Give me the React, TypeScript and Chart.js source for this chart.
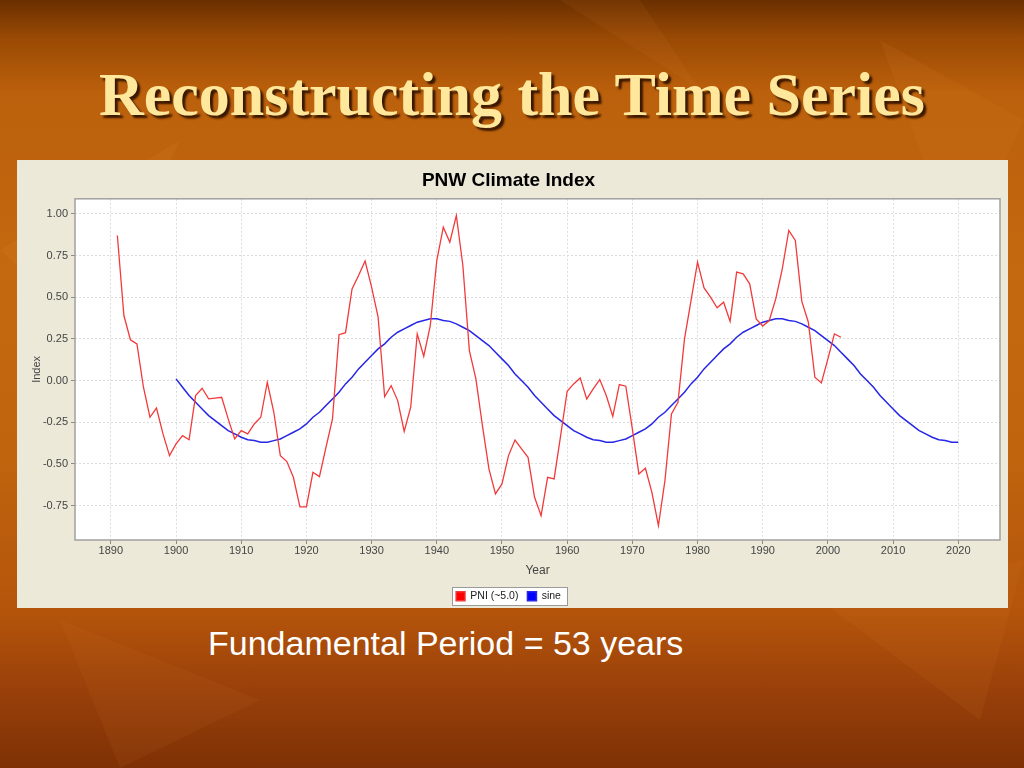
import React, { useEffect, useRef } from "react";
import { Chart, registerables } from "chart.js";

Chart.register(...registerables);

const chartTitle = "PNW Climate Index";
const slideTitle = "Reconstructing the Time Series";
const subtitle = "Fundamental Period = 53 years";
const xTitle = "Year";
const yTitle = "Index";
const seriesNames = ["PNI (~5.0)", "sine"];

// PNI series, years 1891..2002
const pniStartYear = 1891;
const pniValues = [
  0.87, 0.39, 0.245, 0.22, -0.04, -0.22, -0.165, -0.32, -0.45,
  -0.38, -0.33, -0.355, -0.09, -0.046, -0.11, -0.105, -0.1, -0.23, -0.35,
  -0.3, -0.32, -0.26, -0.22, -0.01, -0.19, -0.45, -0.486, -0.58, -0.757,
  -0.757, -0.55, -0.576, -0.4, -0.23, 0.275, 0.287, 0.55, 0.63, 0.717,
  0.56, 0.38, -0.097, -0.03, -0.12, -0.305, -0.16, 0.28, 0.146, 0.33,
  0.72, 0.92, 0.83, 0.99, 0.69, 0.18, 0.01, -0.27, -0.53, -0.68,
  -0.62, -0.45, -0.357, -0.41, -0.46, -0.7, -0.81, -0.58, -0.59, -0.33,
  -0.064, -0.02, 0.016, -0.11, -0.05, 0.006, -0.09, -0.215, -0.024, -0.034,
  -0.29, -0.56, -0.526, -0.67, -0.87, -0.6, -0.2, -0.13, 0.25, 0.48,
  0.71, 0.556, 0.5, 0.436, 0.47, 0.355, 0.65, 0.64, 0.58, 0.37,
  0.327, 0.36, 0.49, 0.67, 0.9, 0.84, 0.475, 0.35, 0.02, -0.014,
  0.13, 0.28, 0.26,
];

// sine series, years 1900..2020
const sineStartYear = 1900;
const sineValues = [
  0.01, -0.04, -0.09, -0.13, -0.17, -0.21, -0.24, -0.27, -0.3, -0.32,
  -0.34, -0.355, -0.36, -0.37, -0.37, -0.36, -0.35, -0.33, -0.31, -0.29,
  -0.26, -0.22, -0.19, -0.15, -0.11, -0.07, -0.02, 0.02, 0.07, 0.11,
  0.15, 0.19, 0.22, 0.26, 0.29, 0.31, 0.33, 0.35, 0.36, 0.37,
  0.37, 0.36, 0.355, 0.34, 0.32, 0.3, 0.27, 0.24, 0.21, 0.17,
  0.13, 0.09, 0.04, 0.0, -0.04, -0.09, -0.13, -0.17, -0.21, -0.24,
  -0.27, -0.3, -0.32, -0.34, -0.355, -0.36, -0.37, -0.37, -0.36, -0.35,
  -0.33, -0.31, -0.29, -0.26, -0.22, -0.19, -0.15, -0.11, -0.07, -0.02,
  0.02, 0.07, 0.11, 0.15, 0.19, 0.22, 0.26, 0.29, 0.31, 0.33,
  0.35, 0.36, 0.37, 0.37, 0.36, 0.355, 0.34, 0.32, 0.3, 0.27,
  0.24, 0.21, 0.17, 0.13, 0.09, 0.04, 0.0, -0.04, -0.09, -0.13,
  -0.17, -0.21, -0.24, -0.27, -0.3, -0.32, -0.34, -0.355, -0.36, -0.37,
  -0.37,
];

const xMin = 1884.5;
const xMax = 2026.4;
const yMin = -0.956;
const yMax = 1.09;

const toPoints = (start: number, vals: number[]) =>
  vals.map((v, i) => ({ x: start + i, y: v }));

const chartDecor = {
  id: "chartDecor",
  beforeDraw(chart: any) {
    const { ctx, chartArea } = chart;
    ctx.save();
    ctx.fillStyle = "#ffffff";
    ctx.fillRect(chartArea.left, chartArea.top, chartArea.right - chartArea.left, chartArea.bottom - chartArea.top);
    const boxes = chart.legend && chart.legend.legendHitBoxes;
    if (boxes && boxes.length) {
      let l = Infinity, r = -Infinity, t = Infinity, b = -Infinity;
      boxes.forEach((h: any) => {
        l = Math.min(l, h.left);
        r = Math.max(r, h.left + h.width);
        t = Math.min(t, h.top);
        b = Math.max(b, h.top + h.height);
      });
      const x = Math.round(l - 4) + 0.5;
      const y = Math.round(t - 4) + 0.5;
      const w = Math.round(r - l + 10);
      const h = Math.round(b - t + 7);
      ctx.fillStyle = "#ffffff";
      ctx.fillRect(x, y, w, h);
      ctx.strokeStyle = "#9a9a9a";
      ctx.lineWidth = 1;
      ctx.strokeRect(x, y, w, h);
    }
    ctx.restore();
  },
  afterDraw(chart: any) {
    const { ctx, chartArea } = chart;
    ctx.save();
    ctx.strokeStyle = "#a0a0a0";
    ctx.lineWidth = 1.5;
    ctx.strokeRect(chartArea.left, chartArea.top, chartArea.right - chartArea.left, chartArea.bottom - chartArea.top);
    ctx.restore();
  },
};

function PnwChart() {
  const ref = useRef<HTMLCanvasElement | null>(null);
  useEffect(() => {
    if (!ref.current) return;
    const font = "'Liberation Sans', Arial, sans-serif";
    const chart = new Chart(ref.current, {
      type: "line",
      data: {
        datasets: [
          {
            label: seriesNames[0],
            data: toPoints(pniStartYear, pniValues),
            borderColor: "#f23a3a",
            backgroundColor: "#ff0000",
            borderWidth: 1.3,
            pointRadius: 0,
            tension: 0,
          },
          {
            label: seriesNames[1],
            data: toPoints(sineStartYear, sineValues),
            borderColor: "#2626e6",
            backgroundColor: "#0000ff",
            borderWidth: 1.5,
            pointRadius: 0,
            tension: 0,
          },
        ],
      },
      options: {
        animation: false,
        responsive: false,
        devicePixelRatio: 1,
        layout: { padding: { top: 1, right: 8, bottom: 0, left: 0 } },
        plugins: {
          title: {
            display: true,
            text: chartTitle,
            color: "#000000",
            font: { family: font, size: 19, weight: "bold" },
            padding: { top: 8, bottom: 7 },
          },
          legend: {
            display: true,
            position: "bottom",
            maxHeight: 26,
            labels: {
              boxWidth: 9,
              boxHeight: 9,
              padding: 9,
              color: "#222222",
              font: { family: font, size: 10.5 },
            },
          },
          tooltip: { enabled: false },
        },
        scales: {
          x: {
            type: "linear",
            min: xMin,
            max: xMax,
            afterFit: (s: any) => {
              s.height = 42;
            },
            ticks: {
              stepSize: 10,
              includeBounds: false,
              padding: 0,
              color: "#444444",
              font: { family: font, size: 11 },
              callback: (v: any) => String(v),
              maxRotation: 0,
            },
            grid: {
              color: "#dcdcdc",
              tickColor: "#8a8a8a",
              tickLength: 4,
              lineWidth: 1,
            },
            border: { display: false, dash: [2, 2] },
            title: {
              display: true,
              text: xTitle,
              color: "#444444",
              font: { family: font, size: 12 },
              padding: { top: 0, bottom: 4 },
            },
          },
          y: {
            type: "linear",
            min: yMin,
            max: yMax,
            afterFit: (s: any) => {
              s.width = 58;
            },
            ticks: {
              stepSize: 0.25,
              includeBounds: false,
              padding: 3,
              color: "#444444",
              font: { family: font, size: 11 },
              callback: (v: any) => Number(v).toFixed(2),
            },
            grid: {
              color: "#dcdcdc",
              tickColor: "#8a8a8a",
              tickLength: 4,
              lineWidth: 1,
            },
            border: { display: false, dash: [2, 2] },
            title: {
              display: true,
              text: yTitle,
              color: "#444444",
              font: { family: font, size: 11 },
              padding: { top: 13, bottom: 0 },
            },
          },
        },
      } as any,
      plugins: [chartDecor],
    });
    return () => chart.destroy();
  }, []);
  return <canvas ref={ref} width={991} height={448} style={{ display: "block" }} />;
}

export default function App() {
  return (
    <div
      style={{
        position: "absolute",
        left: 0,
        top: 0,
        width: 1024,
        height: 768,
        overflow: "hidden",
        background:
          "linear-gradient(180deg, #6a2f00 0%, #9a4a04 5%, #bb600c 12%, #c4690f 35%, #c0640e 60%, #b4540b 80%, #99400a 90%, #7e3105 100%)",
      }}
    >
      <svg width={1024} height={768} style={{ position: "absolute", left: 0, top: 0 }}>
        <polygon points="0,250 180,140 90,330" fill="#e08a30" opacity={0.12} />
        <polygon points="1024,120 880,40 960,260" fill="#e08a30" opacity={0.1} />
        <polygon points="60,620 260,700 120,768" fill="#d07a30" opacity={0.1} />
        <polygon points="820,600 1024,560 980,720" fill="#d88030" opacity={0.1} />
        <polygon points="560,0 700,90 640,0" fill="#e09040" opacity={0.08} />
      </svg>
      <div
        style={{
          position: "absolute",
          left: 0,
          top: 63,
          width: 1024,
          textAlign: "center",
          fontFamily: "'Liberation Serif', 'Times New Roman', serif",
          fontWeight: "bold",
          fontSize: 62,
          lineHeight: 1,
          color: "#ffe89c",
          textShadow: "3px 3px 2px #3a1800",
          whiteSpace: "nowrap",
        }}
      >
        {slideTitle}
      </div>
      <div
        style={{
          position: "absolute",
          left: 17,
          top: 160,
          width: 991,
          height: 448,
          background: "#ece9d8",
        }}
      >
        <PnwChart />
      </div>
      <div
        style={{
          position: "absolute",
          left: 208,
          top: 626,
          fontFamily: "'Liberation Sans', Arial, sans-serif",
          fontSize: 34,
          lineHeight: 1,
          color: "#ffffff",
          whiteSpace: "nowrap",
        }}
      >
        {subtitle}
      </div>
    </div>
  );
}
